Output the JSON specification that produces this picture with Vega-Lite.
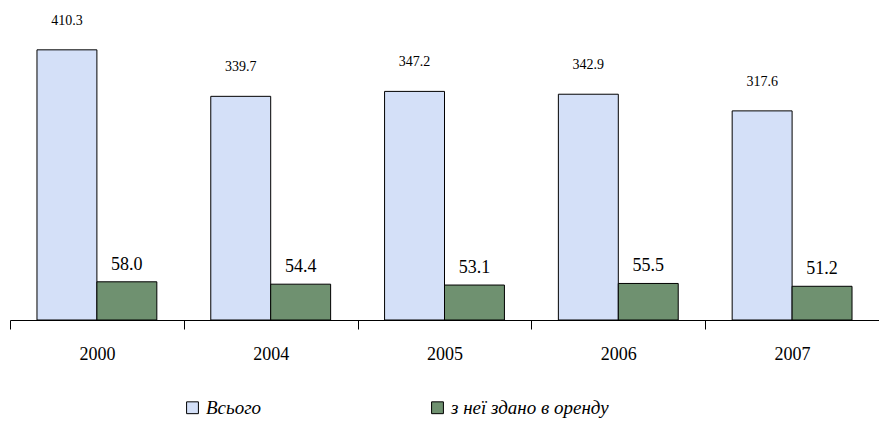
{
  "$schema": "https://vega.github.io/schema/vega-lite/v6.json",
  "width": 869,
  "height": 320,
  "autosize": {"type": "none"},
  "padding": {"left": 10, "top": 0, "right": 0, "bottom": 109},
  "background": "white",
  "config": {"view": {"stroke": null}, "font": "Liberation Serif"},
  "data": {"values": [
    {"year": "2000", "series": "Всього", "value": 410.3},
    {"year": "2000", "series": "з неї здано в оренду", "value": 58.0},
    {"year": "2004", "series": "Всього", "value": 339.7},
    {"year": "2004", "series": "з неї здано в оренду", "value": 54.4},
    {"year": "2005", "series": "Всього", "value": 347.2},
    {"year": "2005", "series": "з неї здано в оренду", "value": 53.1},
    {"year": "2006", "series": "Всього", "value": 342.9},
    {"year": "2006", "series": "з неї здано в оренду", "value": 55.5},
    {"year": "2007", "series": "Всього", "value": 317.6},
    {"year": "2007", "series": "з неї здано в оренду", "value": 51.2}
  ]},
  "encoding": {
    "x": {"field": "year", "type": "nominal", "scale": {"paddingInner": 0, "paddingOuter": 0},
      "axis": {"title": null, "labelAngle": 0, "tickBand": "extent", "domainColor": "black", "tickColor": "black", "tickSize": 9, "labelPadding": 16, "labelFontSize": 18, "labelColor": "black", "labelFont": "Liberation Serif", "domainWidth": 1, "tickWidth": 1}},
    "xOffset": {"field": "series", "type": "nominal", "sort": ["Всього", "з неї здано в оренду"], "scale": {"paddingInner": 0, "paddingOuter": 0.45}},
    "y": {"field": "value", "type": "quantitative", "scale": {"domain": [0, 486]}, "axis": null}
  },
  "layer": [
    {
      "mark": {"type": "bar", "stroke": "black", "strokeWidth": 1},
      "encoding": {
        "fill": {"field": "series", "type": "nominal", "sort": ["Всього", "з неї здано в оренду"],
          "scale": {"domain": ["Всього", "з неї здано в оренду"], "range": ["#d4e0f8", "#6f9170"]},
          "legend": {"title": null, "orient": "none", "legendX": 173, "legendY": 398, "direction": "horizontal", "symbolType": "square", "symbolSize": 140, "symbolStrokeColor": "black", "symbolStrokeWidth": 1, "labelFont": "Liberation Serif", "labelFontStyle": "italic", "labelFontSize": 19, "labelColor": "black", "columnPadding": 166, "labelOffset": 4, "labelLimit": 300}}
      }
    },
    {
      "transform": [{"filter": "datum.series == 'Всього'"}],
      "mark": {"type": "text", "baseline": "alphabetic", "dy": -25, "fontSize": 14, "font": "Liberation Serif", "color": "black"},
      "encoding": {"text": {"field": "value", "type": "quantitative", "format": ".1f"}}
    },
    {
      "transform": [{"filter": "datum.series != 'Всього'"}],
      "mark": {"type": "text", "baseline": "alphabetic", "dy": -12, "fontSize": 18, "font": "Liberation Serif", "color": "black"},
      "encoding": {"text": {"field": "value", "type": "quantitative", "format": ".1f"}}
    }
  ]
}
